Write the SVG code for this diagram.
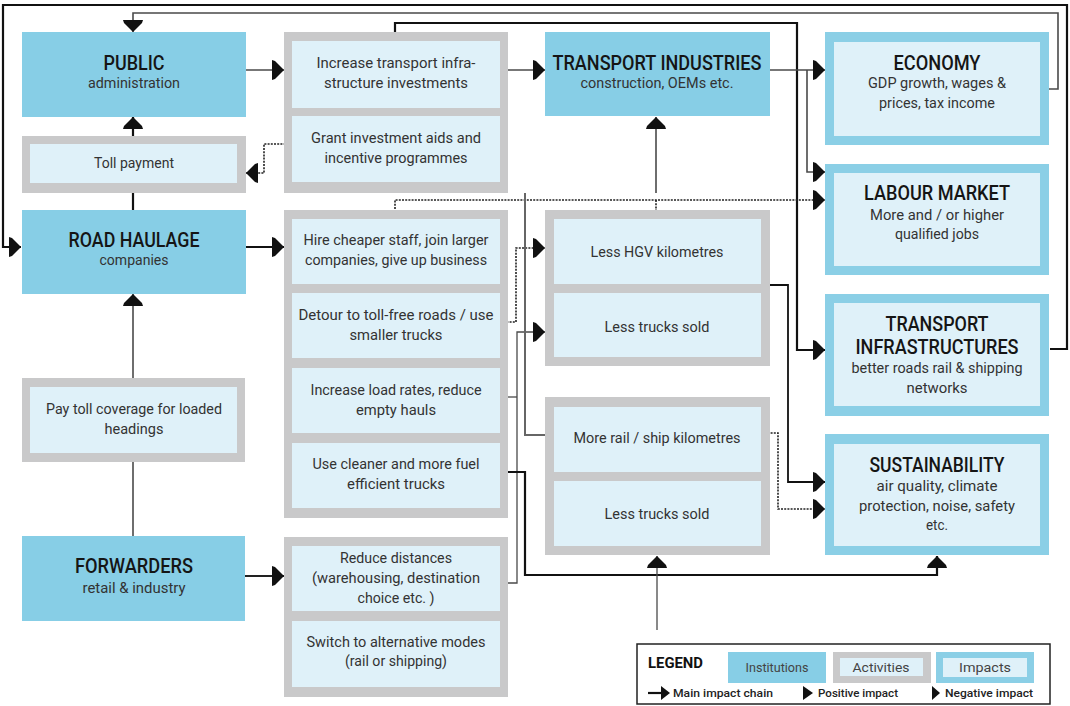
<svg xmlns="http://www.w3.org/2000/svg" width="1070" height="706" viewBox="0 0 1070 706">
<style>
.inst{fill:#87CEE6}
.acto{fill:#C9C9CA}
.in{fill:#DFF1F9}
.impo{fill:#8BCFE6}
text{font-family:Roboto,"Liberation Sans",sans-serif;text-anchor:middle;fill:#333}
.b{font-size:15px}
.h{font-size:20px;font-weight:500;fill:#151515}
.k{stroke:#111;stroke-width:2.2;fill:none}
.g{stroke:#4a4a4a;stroke-width:1.6;fill:none}
.d{stroke:#222;stroke-width:1.6;fill:none;stroke-dasharray:2 1.2}
.lg{font-size:12px;fill:#444}
.ls{font-size:11.5px;font-weight:500;fill:#222;text-anchor:start}
</style>
<defs>
<marker id="a" markerUnits="userSpaceOnUse" markerWidth="13" markerHeight="22" viewBox="0 -11 13 22" refX="12" refY="0" orient="auto">
<path d="M0,-10 L3,-9 L12,0 L3,9 L0,10 Z" fill="#111"/>
</marker>
</defs>
<rect width="1070" height="706" fill="#fff"/>

<g id="connectors">
<path class="k" d="M1050,349 H1067 V5 H3 V247 H21" marker-end="url(#a)"/>
<path class="g" d="M1049,89 H1058 V13 H133 V32" marker-end="url(#a)"/>
<path class="k" d="M395,32 V23 H797 V350 H825" marker-end="url(#a)"/>
<path class="g" d="M246,70 H284" marker-end="url(#a)"/>
<path class="k" d="M133,136 V117" marker-end="url(#a)"/>
<path class="k" d="M133,210 V193"/>
<path class="d" d="M292,144 H264 V173 H246" marker-end="url(#a)"/>
<path class="k" d="M246,247 H284" marker-end="url(#a)"/>
<path class="g" style="stroke:#222;stroke-width:1.8" d="M245,576 H284" marker-end="url(#a)"/>
<path class="g" d="M133,378 V294" marker-end="url(#a)"/>
<path class="g" d="M133,536 V462"/>
<path class="g" d="M508,70 H545" marker-end="url(#a)"/>
<path class="g" d="M770,70 H825" marker-end="url(#a)"/>
<path class="g" d="M807,70 V172 H825" marker-end="url(#a)"/>
<path class="d" d="M395,209 V200 H825" marker-end="url(#a)"/>
<path class="g" d="M656,193 V117" marker-end="url(#a)"/>
<path class="d" d="M656,200 V210"/>
<path class="d" d="M500,322 H516 V248 H545" marker-end="url(#a)"/>
<path class="g" style="stroke-width:1.3" d="M500,583 H517 V332 H545" marker-end="url(#a)"/>
<path class="g" style="stroke-width:1.3" d="M500,397 H517"/>
<path class="g" style="stroke-width:2;stroke:#666" d="M525,193 V435 H545"/>
<path class="k" d="M500,472 H525 V575 H937 V556" marker-end="url(#a)"/>
<path class="g" style="stroke-width:1.3" d="M657,630 V556" marker-end="url(#a)"/>
<path class="k" style="stroke-width:1.8" d="M770,285 H788 V482 H825" marker-end="url(#a)"/>
<path class="d" d="M761,433 H778 V509 H825" marker-end="url(#a)"/>
<path class="g" style="stroke-width:1.2;stroke:#888" d="M500,629 H508"/>
<path class="g" style="stroke-width:1.2;stroke:#888" d="M500,572 H508"/>
</g>

<g id="public">
<rect class="inst" x="22" y="32" width="224" height="85"/>
<text class="h" x="134" y="70" textLength="61" lengthAdjust="spacingAndGlyphs">PUBLIC</text>
<text class="b" x="134" y="88" textLength="92" lengthAdjust="spacingAndGlyphs">administration</text>
</g>
<g id="toll-payment">
<rect class="acto" x="22" y="136" width="224" height="57"/>
<rect class="in" x="30" y="144" width="207" height="39"/>
<text class="b" x="134" y="168" textLength="80" lengthAdjust="spacingAndGlyphs">Toll payment</text>
</g>
<g id="road-haulage">
<rect class="inst" x="22" y="210" width="224" height="84"/>
<text class="h" x="134" y="247" textLength="131" lengthAdjust="spacingAndGlyphs">ROAD HAULAGE</text>
<text class="b" x="134" y="265" textLength="69" lengthAdjust="spacingAndGlyphs">companies</text>
</g>
<g id="pay-toll">
<rect class="acto" x="22" y="378" width="223" height="84"/>
<rect class="in" x="30" y="387" width="207" height="66"/>
<text class="b" x="134" y="414" textLength="176" lengthAdjust="spacingAndGlyphs">Pay toll coverage for loaded</text>
<text class="b" x="134" y="434" textLength="59" lengthAdjust="spacingAndGlyphs">headings</text>
</g>
<g id="forwarders">
<rect class="inst" x="22" y="536" width="223" height="85"/>
<text class="h" x="134" y="573" textLength="118" lengthAdjust="spacingAndGlyphs">FORWARDERS</text>
<text class="b" x="134" y="593" textLength="103" lengthAdjust="spacingAndGlyphs">retail &amp; industry</text>
</g>

<g id="public-activities">
<rect class="acto" x="284" y="32" width="224" height="161"/>
<rect class="in" x="292" y="41" width="208" height="67"/>
<rect class="in" x="292" y="116" width="208" height="66"/>
<text class="b" x="396" y="68" textLength="159" lengthAdjust="spacingAndGlyphs">Increase transport infra-</text>
<text class="b" x="396" y="88" textLength="144" lengthAdjust="spacingAndGlyphs">structure investments</text>
<text class="b" x="396" y="143" textLength="170" lengthAdjust="spacingAndGlyphs">Grant investment aids and</text>
<text class="b" x="396" y="163" textLength="143" lengthAdjust="spacingAndGlyphs">incentive programmes</text>
</g>
<g id="haulage-activities">
<rect class="acto" x="284" y="210" width="224" height="308"/>
<rect class="in" x="292" y="219" width="208" height="65"/>
<rect class="in" x="292" y="293" width="208" height="65"/>
<rect class="in" x="292" y="368" width="208" height="65"/>
<rect class="in" x="292" y="443" width="208" height="65"/>
<text class="b" x="396" y="245" textLength="185" lengthAdjust="spacingAndGlyphs">Hire cheaper staff, join larger</text>
<text class="b" x="396" y="265" textLength="182" lengthAdjust="spacingAndGlyphs">companies, give up business</text>
<text class="b" x="396" y="320" textLength="195" lengthAdjust="spacingAndGlyphs">Detour to toll-free roads / use</text>
<text class="b" x="396" y="340" textLength="93" lengthAdjust="spacingAndGlyphs">smaller trucks</text>
<text class="b" x="396" y="395" textLength="171" lengthAdjust="spacingAndGlyphs">Increase load rates, reduce</text>
<text class="b" x="396" y="415" textLength="80" lengthAdjust="spacingAndGlyphs">empty hauls</text>
<text class="b" x="396" y="469" textLength="167" lengthAdjust="spacingAndGlyphs">Use cleaner and more fuel</text>
<text class="b" x="396" y="489" textLength="98" lengthAdjust="spacingAndGlyphs">efficient trucks</text>
</g>
<g id="forwarder-activities">
<rect class="acto" x="284" y="537" width="224" height="160"/>
<rect class="in" x="292" y="546" width="208" height="65"/>
<rect class="in" x="292" y="621" width="208" height="66"/>
<text class="b" x="396" y="563" textLength="112" lengthAdjust="spacingAndGlyphs">Reduce distances</text>
<text class="b" x="396" y="583" textLength="168" lengthAdjust="spacingAndGlyphs">(warehousing, destination</text>
<text class="b" x="396" y="603" textLength="77" lengthAdjust="spacingAndGlyphs">choice etc. )</text>
<text class="b" x="396" y="647" textLength="179" lengthAdjust="spacingAndGlyphs">Switch to alternative modes</text>
<text class="b" x="396" y="666" textLength="102" lengthAdjust="spacingAndGlyphs">(rail or shipping)</text>
</g>

<g id="transport-industries">
<rect class="inst" x="545" y="32" width="225" height="84"/>
<text class="h" x="657" y="70" textLength="209" lengthAdjust="spacingAndGlyphs">TRANSPORT INDUSTRIES</text>
<text class="b" x="657" y="88" textLength="153" lengthAdjust="spacingAndGlyphs">construction, OEMs etc.</text>
</g>
<g id="hgv-group">
<rect class="acto" x="545" y="210" width="225" height="156"/>
<rect class="in" x="554" y="219" width="207" height="65"/>
<rect class="in" x="554" y="293" width="207" height="64"/>
<text class="b" x="657" y="257" textLength="133" lengthAdjust="spacingAndGlyphs">Less HGV kilometres</text>
<text class="b" x="657" y="332" textLength="105" lengthAdjust="spacingAndGlyphs">Less trucks sold</text>
</g>
<g id="rail-group">
<rect class="acto" x="545" y="397" width="225" height="158"/>
<rect class="in" x="554" y="407" width="207" height="65"/>
<rect class="in" x="554" y="481" width="207" height="65"/>
<text class="b" x="657" y="443" textLength="167" lengthAdjust="spacingAndGlyphs">More rail / ship kilometres</text>
<text class="b" x="657" y="519" textLength="105" lengthAdjust="spacingAndGlyphs">Less trucks sold</text>
</g>

<g id="economy">
<rect class="impo" x="825" y="32" width="224" height="113"/>
<rect class="in" x="834" y="42" width="206" height="94"/>
<text class="h" x="937" y="70" textLength="87" lengthAdjust="spacingAndGlyphs">ECONOMY</text>
<text class="b" x="937" y="88" textLength="138" lengthAdjust="spacingAndGlyphs">GDP growth, wages &amp;</text>
<text class="b" x="937" y="108" textLength="116" lengthAdjust="spacingAndGlyphs">prices, tax income</text>
</g>
<g id="labour-market">
<rect class="impo" x="825" y="164" width="224" height="111"/>
<rect class="in" x="834" y="173" width="206" height="93"/>
<text class="h" x="937" y="200" textLength="146" lengthAdjust="spacingAndGlyphs">LABOUR MARKET</text>
<text class="b" x="937" y="220" textLength="134" lengthAdjust="spacingAndGlyphs">More and  / or higher</text>
<text class="b" x="937" y="239" textLength="84" lengthAdjust="spacingAndGlyphs">qualified jobs</text>
</g>
<g id="transport-infrastructures">
<rect class="impo" x="825" y="294" width="224" height="122"/>
<rect class="in" x="834" y="303" width="206" height="103"/>
<text class="h" x="937" y="331" textLength="103" lengthAdjust="spacingAndGlyphs">TRANSPORT</text>
<text class="h" x="937" y="354" textLength="163" lengthAdjust="spacingAndGlyphs">INFRASTRUCTURES</text>
<text class="b" x="937" y="373" textLength="171" lengthAdjust="spacingAndGlyphs">better roads rail &amp; shipping</text>
<text class="b" x="937" y="393" textLength="61" lengthAdjust="spacingAndGlyphs">networks</text>
</g>
<g id="sustainability">
<rect class="impo" x="825" y="434" width="224" height="121"/>
<rect class="in" x="834" y="444" width="206" height="102"/>
<text class="h" x="937" y="472" textLength="135" lengthAdjust="spacingAndGlyphs">SUSTAINABILITY</text>
<text class="b" x="937" y="491" textLength="121" lengthAdjust="spacingAndGlyphs">air quality, climate</text>
<text class="b" x="937" y="511" textLength="156" lengthAdjust="spacingAndGlyphs">protection, noise, safety</text>
<text class="b" x="937" y="530" textLength="22" lengthAdjust="spacingAndGlyphs">etc.</text>
</g>

<g id="legend">
<rect x="637" y="644" width="413" height="60" fill="#fff" stroke="#222" stroke-width="1.5"/>
<text x="648" y="668" style="font-size:14px;font-weight:700;fill:#111;text-anchor:start" textLength="55" lengthAdjust="spacingAndGlyphs">LEGEND</text>
<rect class="inst" x="728" y="652" width="98" height="31"/>
<text class="lg" x="777" y="672" textLength="63" lengthAdjust="spacingAndGlyphs">Institutions</text>
<rect class="acto" x="833" y="652" width="98" height="31"/>
<rect class="in" x="840" y="658" width="83" height="18"/>
<text class="lg" x="881" y="672" textLength="57" lengthAdjust="spacingAndGlyphs">Activities</text>
<rect class="impo" x="936" y="652" width="98" height="31"/>
<rect class="in" x="943" y="658" width="84" height="19"/>
<text class="lg" x="985" y="672" textLength="52" lengthAdjust="spacingAndGlyphs">Impacts</text>
<path d="M648,693 H662" stroke="#111" stroke-width="2.2" fill="none"/>
<path d="M661,686 L670,693 L661,700 Z" fill="#111"/>
<text class="ls" x="673" y="697" textLength="100" lengthAdjust="spacingAndGlyphs">Main impact chain</text>
<path d="M803,686 L813,693 L803,700 Z" fill="#111"/>
<text class="ls" x="818" y="697" textLength="80" lengthAdjust="spacingAndGlyphs">Positive impact</text>
<path d="M932,686 L940,693 L932,700 Z" fill="#111"/>
<text class="ls" x="945" y="697" textLength="88" lengthAdjust="spacingAndGlyphs">Negative impact</text>
</g>
</svg>
